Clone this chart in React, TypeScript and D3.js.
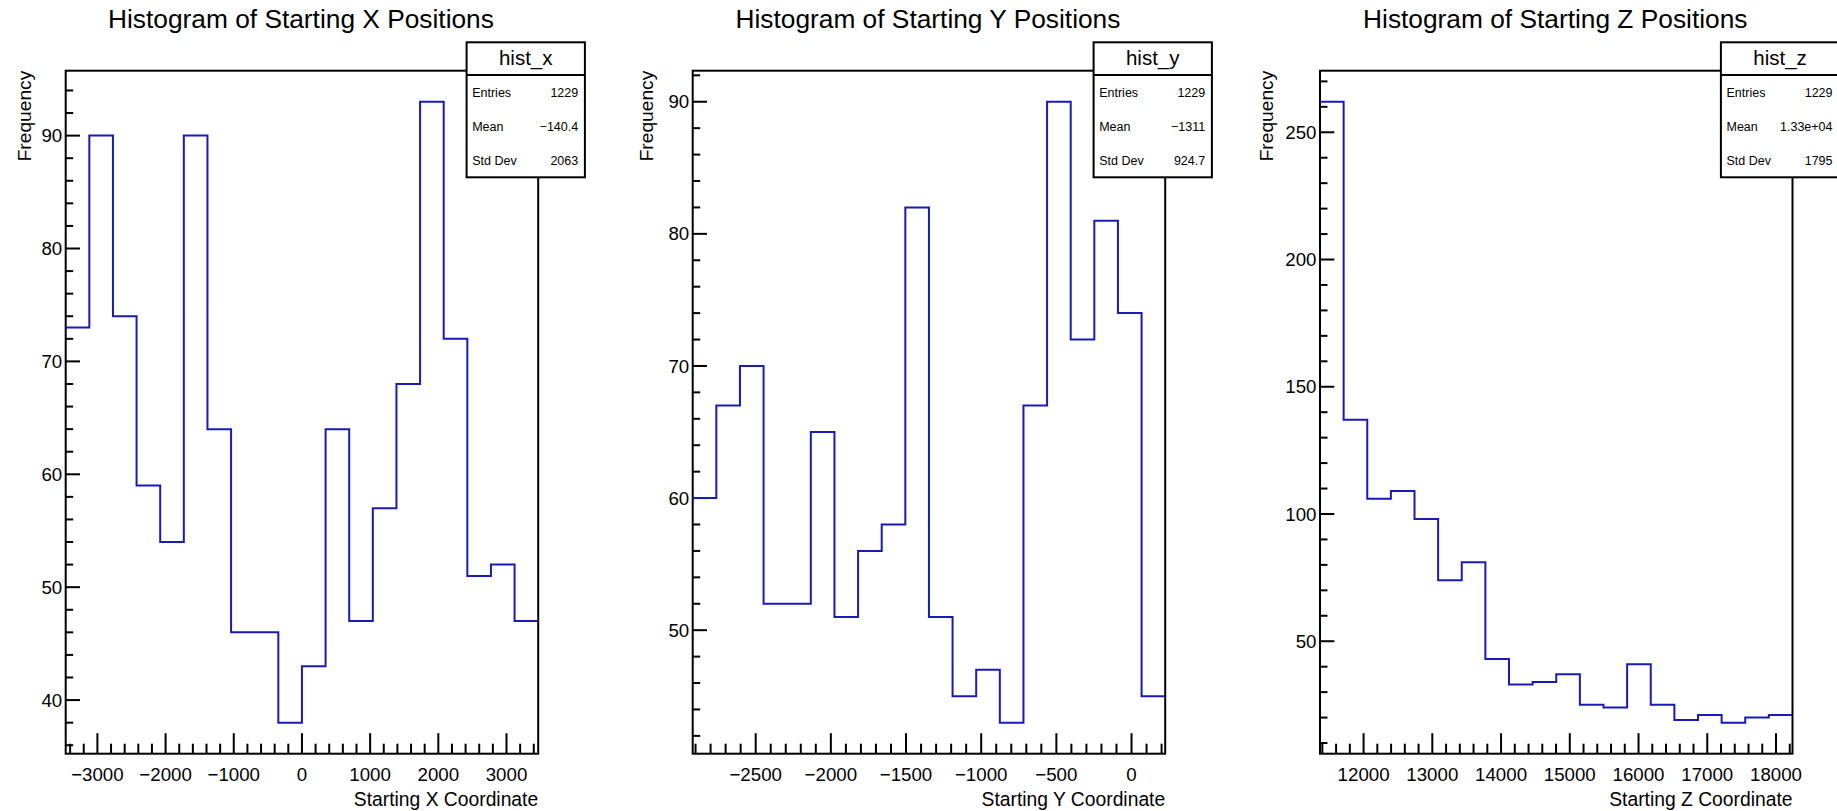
import React from "react";
import * as d3 from "d3";

// ---------- data ----------
const panelTitles = [
  "Histogram of Starting X Positions",
  "Histogram of Starting Y Positions",
  "Histogram of Starting Z Positions",
];
const axisTitles = ["Starting X Coordinate", "Starting Y Coordinate", "Starting Z Coordinate"];
const histNames = ["hist_x", "hist_y", "hist_z"];

const xCounts = [73, 90, 74, 59, 54, 90, 64, 46, 46, 38, 43, 64, 47, 57, 68, 93, 72, 51, 52, 47];
const yCounts = [60, 67, 70, 52, 52, 65, 51, 56, 58, 82, 51, 45, 47, 43, 67, 90, 72, 81, 74, 45];
const zCounts = [262, 137, 106, 109, 98, 74, 81, 43, 33, 34, 37, 25, 24, 41, 25, 19, 21, 18, 20, 21];

const xRange = [-3465, 3465];
const yRange = [-2919, 224];
const zRange = [11366, 18240];

const statEntries = ["1229", "1229", "1229"];
const statMeans = ["\u2212140.4", "\u22121311", "1.33e+04"];
const statStdDevs = ["2063", "924.7", "1795"];

const xMajorSteps = [1000, 500, 1000];
const xMinorSteps = [200, 100, 200];
const yMajorSteps = [10, 10, 50];
const yMinorSteps = [2, 2, 10];

const allCounts = [xCounts, yCounts, zCounts];
const allRanges = [xRange, yRange, zRange];

// ---------- layout ----------
const W = 1837;
const H = 811;
const FRAME_LEFTS = [65.7, 692.7, 1320];
const FRAME_W = 472.5;
const TOP = 70.7;
const BOTTOM = 753.7;
const YTITLE_X = [31, 653, 1273];
const FONT = "'Liberation Sans', Arial, Helvetica, sans-serif";
const HIST_COLOR = "#1a1ab8";

function stepTicks(lo: number, hi: number, step: number): number[] {
  const a = Math.ceil(lo / step - 1e-9);
  const b = Math.floor(hi / step + 1e-9);
  return d3.range(a, b + 1).map((k) => k * step);
}
function isMultiple(v: number, step: number) {
  return Math.abs(Math.round(v / step) * step - v) < 1e-6;
}
function fmt(v: number) {
  const s = String(Math.round(v * 1000) / 1000);
  return s.replace("-", "\u2212");
}

function Panel({ i }: { i: number }) {
  const counts = allCounts[i];
  const [lo, hi] = allRanges[i];
  const left = FRAME_LEFTS[i];
  const right = left + FRAME_W;
  const x = d3.scaleLinear().domain([lo, hi]).range([left, right]);
  const mx = d3.max(counts) as number;
  const mn = d3.min(counts) as number;
  const margin = 0.05 * (mx - mn);
  const y = d3.scaleLinear().domain([mn - margin, mx + margin]).range([BOTTOM, TOP]);
  const [ylo, yhi] = y.domain();

  const bw = (hi - lo) / counts.length;
  const pts: [number, number][] = counts.map((c, k) => [lo + k * bw, c]);
  pts.push([hi, counts[counts.length - 1]]);
  const line = d3
    .line<[number, number]>()
    .x((d) => x(d[0]))
    .y((d) => y(d[1]))
    .curve(d3.curveStepAfter);

  const xMaj = stepTicks(lo, hi, xMajorSteps[i]);
  const xMin = stepTicks(lo, hi, xMinorSteps[i]).filter((v) => !isMultiple(v, xMajorSteps[i]));
  const yMaj = stepTicks(ylo, yhi, yMajorSteps[i]);
  const yMin = stepTicks(ylo, yhi, yMinorSteps[i]).filter((v) => !isMultiple(v, yMajorSteps[i]));

  const boxLeft = right - 71.6;
  const boxTop = 42.3;
  const boxW = 118.3;
  const boxH = 135;

  return (
    <g>
      <text
        x={(left + right) / 2 - 1}
        y={27.5}
        textAnchor="middle"
        fontSize={26.3}
        fontFamily={FONT}
        fill="#000"
      >
        {panelTitles[i]}
      </text>

      {/* frame */}
      <rect x={left} y={TOP} width={FRAME_W} height={BOTTOM - TOP} fill="none" stroke="#000" strokeWidth={2} />

      {/* x ticks */}
      {xMin.map((v) => (
        <line key={"xm" + v} x1={x(v)} x2={x(v)} y1={BOTTOM} y2={BOTTOM - 10} stroke="#000" strokeWidth={2} />
      ))}
      {xMaj.map((v) => (
        <g key={"xM" + v}>
          <line x1={x(v)} x2={x(v)} y1={BOTTOM} y2={BOTTOM - 20.5} stroke="#000" strokeWidth={2} />
          <text x={x(v)} y={BOTTOM + 27.3} textAnchor="middle" fontSize={18.7} fontFamily={FONT} fill="#000">
            {fmt(v)}
          </text>
        </g>
      ))}

      {/* y ticks */}
      {yMin.map((v) => (
        <line key={"ym" + v} x1={left} x2={left + 7.5} y1={y(v)} y2={y(v)} stroke="#000" strokeWidth={2} />
      ))}
      {yMaj.map((v) => (
        <g key={"yM" + v}>
          <line x1={left} x2={left + 14.3} y1={y(v)} y2={y(v)} stroke="#000" strokeWidth={2} />
          <text x={left - 3.5} y={y(v) + 6.6} textAnchor="end" fontSize={18.7} fontFamily={FONT} fill="#000">
            {fmt(v)}
          </text>
        </g>
      ))}

      {/* histogram */}
      <path d={line(pts) || ""} fill="none" stroke={HIST_COLOR} strokeWidth={2} />

      {/* axis titles */}
      <text x={right} y={805.5} textAnchor="end" fontSize={19.3} fontFamily={FONT} fill="#000">
        {axisTitles[i]}
      </text>
      <text
        transform={`translate(${YTITLE_X[i]},${TOP}) rotate(-90)`}
        textAnchor="end"
        fontSize={19.2}
        fontFamily={FONT}
        fill="#000"
      >
        Frequency
      </text>

      {/* stats box */}
      <rect x={boxLeft} y={boxTop} width={boxW} height={boxH} fill="#fff" stroke="#000" strokeWidth={2} />
      <line x1={boxLeft} x2={boxLeft + boxW} y1={boxTop + 32.7} y2={boxTop + 32.7} stroke="#000" strokeWidth={2} />
      <text x={boxLeft + boxW / 2} y={boxTop + 22.7} textAnchor="middle" fontSize={20.5} fontFamily={FONT} fill="#000">
        {histNames[i]}
      </text>
      {[
        ["Entries", statEntries[i]],
        ["Mean", statMeans[i]],
        ["Std Dev", statStdDevs[i]],
      ].map(([k, v], r) => (
        <g key={k}>
          <text x={boxLeft + 5.6} y={boxTop + 54.4 + r * 34.2} fontSize={12.5} fontFamily={FONT} fill="#000">
            {k}
          </text>
          <text
            x={boxLeft + boxW - 6.7}
            y={boxTop + 54.4 + r * 34.2}
            textAnchor="end"
            fontSize={12.5}
            fontFamily={FONT}
            fill="#000"
          >
            {v}
          </text>
        </g>
      ))}
    </g>
  );
}

export default function App() {
  return (
    <svg
      width={W}
      height={H}
      style={{ position: "absolute", left: 0, top: 0, background: "#fff" }}
      xmlns="http://www.w3.org/2000/svg"
    >
      <rect x={0} y={0} width={W} height={H} fill="#fff" />
      {[0, 1, 2].map((i) => (
        <Panel key={i} i={i} />
      ))}
    </svg>
  );
}
